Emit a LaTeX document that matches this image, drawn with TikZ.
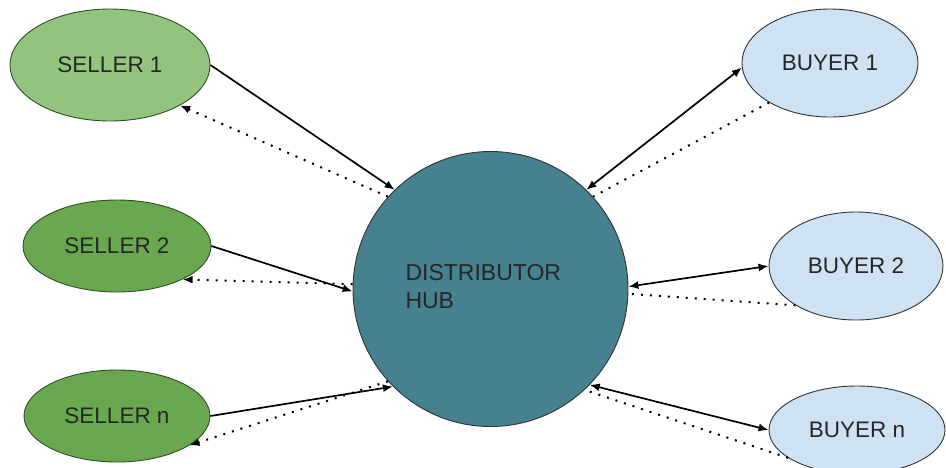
\documentclass[tikz,border=0pt]{standalone}
\usepackage{fontspec}
\setmainfont{Liberation Sans}
\usetikzlibrary{shapes.geometric,arrows.meta}

\definecolor{sellerlight}{HTML}{93C47D}
\definecolor{sellerdark}{HTML}{6AA84F}
\definecolor{buyerfill}{HTML}{CFE2F3}
\definecolor{hubfill}{HTML}{45818E}
\definecolor{edgegreen}{HTML}{2F4F26}
\definecolor{edgegray}{HTML}{333333}

\begin{document}
\begin{tikzpicture}[x=1pt,y=-1pt,
    party/.style={ellipse,draw,line width=0.9pt,inner sep=0pt,font=\fontsize{22.5}{27}\selectfont,text=black!85},
    seller/.style={party,draw=edgegreen},
    buyer/.style={party,draw=edgegray,fill=buyerfill},
    goods/.style={line width=1.7pt},
    money/.style={line width=2pt,dash pattern=on 2pt off 7pt},
    tip/.style={-{Latex[length=10pt,width=8pt]}},
    bothtip/.style={{Latex[length=10pt,width=8pt]}-{Latex[length=10pt,width=8pt]}}]
  \useasboundingbox (0,0) rectangle (946,467);

  % hub
  \node[circle,draw=edgegray,line width=0.9pt,fill=hubfill,minimum size=275pt,inner sep=0pt] (hub) at (490.5,289) {};
  \node[align=left,anchor=west,font=\fontsize{23}{28}\selectfont,text=black!85] (hubtext) at (402,287) {DISTRIBUTOR\\HUB};

  % sellers
  \node[seller,fill=sellerlight,minimum width=200pt,minimum height=112pt] (s1) at (110,65) {SELLER 1};
  \node[seller,fill=sellerdark,minimum width=188pt,minimum height=92pt] (s2) at (117,246) {SELLER 2};
  \node[seller,fill=sellerdark,minimum width=186pt,minimum height=92pt] (sn) at (117,416) {SELLER n};

  % buyers
  \node[buyer,minimum width=176pt,minimum height=108pt] (b1) at (830,63) {BUYER 1};
  \node[buyer,minimum width=174pt,minimum height=108pt] (b2) at (856,266) {BUYER 2};
  \node[buyer,minimum width=176pt,minimum height=88pt] (bn) at (857,430) {BUYER n};

  % goods
  \draw[goods,tip] (s1.east) -- (hub.134);
  \draw[goods,tip] (s2.east) -- (hub.181);
  \draw[goods,tip] (sn.east) -- (hub.225);
  \draw[goods,bothtip] (hub.46) -- (b1.183);
  \draw[goods,bothtip] (hub.1) -- (b2.west);
  \draw[goods,bothtip] (hub.-44) -- (bn.west);

  % money
  \draw[money,tip] (hub.138) -- (s1.-30);
  \draw[money,tip] (hub.178) -- (s2.-27);
  \draw[money,tip] (hub.222) -- (sn.-22);
  \draw[money] (b1.213) -- (hub.42);
  \draw[money] (b2.213) -- (hub.-2);
  \draw[money] (bn.202) -- (hub.-47);
\end{tikzpicture}
\end{document}
